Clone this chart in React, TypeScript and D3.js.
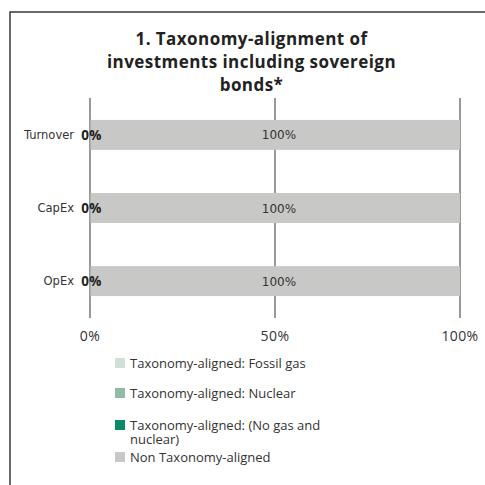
import React from "react";
import * as d3 from "d3";

const categories = ["Turnover", "CapEx", "OpEx"];
const seriesNames = [
  "Taxonomy-aligned: Fossil gas",
  "Taxonomy-aligned: Nuclear",
  "Taxonomy-aligned: (No gas and nuclear)",
  "Non Taxonomy-aligned",
];
const fossilGas = [0, 0, 0];
const nuclear = [0, 0, 0];
const noGasNuclear = [0, 0, 0];
const nonAligned = [100, 100, 100];
const seriesColors = ["#cfe0d6", "#8fbba5", "#0b8a68", "#c8c8c6"];
const xTicks = [0, 50, 100];
const titleLines = ["1. Taxonomy-alignment of", "investments including sovereign", "bonds*"];

const W = 485;
const H = 485;
const legendFont = "'Open Sans', 'Noto Sans', sans-serif";
const labelFont = "'DejaVu Sans', Verdana, sans-serif";

export default function App() {
  const x = d3.scaleLinear().domain([0, 100]).range([90, 460]);
  const y = d3.scaleBand().domain(categories).range([98, 318]).paddingInner(0.59).paddingOuter(0.3);
  const rows = categories.map((c, i) => ({
    cat: c,
    fossilGas: fossilGas[i],
    nuclear: nuclear[i],
    noGasNuclear: noGasNuclear[i],
    nonAligned: nonAligned[i],
  }));
  const keys = ["fossilGas", "nuclear", "noGasNuclear", "nonAligned"];
  const stack = d3.stack<any>().keys(keys)(rows);
  const alignedSum = categories.map((_, i) => fossilGas[i] + nuclear[i] + noGasNuclear[i]);

  const legendY = [363, 393, 425, 457];
  const legendLines = [[seriesNames[0]], [seriesNames[1]], ["Taxonomy-aligned: (No gas and", "nuclear)"], [seriesNames[3]]];

  return (
    <svg width={W} height={H} style={{ position: "absolute", left: 0, top: 0 }}>
      <rect x={0} y={0} width={W} height={H} fill="#fff" />
      <rect x={10} y={12} width={W} height={H} fill="none" stroke="#3a3a3a" strokeWidth={1.5} />
      {titleLines.map((t, i) => (
        <text key={i} x={251.5} y={45 + i * 23} textAnchor="middle" fontFamily={legendFont} fontWeight={700} fontSize={17} letterSpacing={0.45} fill="#222">
          {t}
        </text>
      ))}
      {xTicks.map((t) => (
        <line key={t} x1={x(t)} x2={x(t)} y1={98} y2={318} stroke="#333" strokeWidth={1} />
      ))}
      {stack.map((s, si) =>
        s.map((d, i) => (
          <rect key={si + "-" + i} x={x(d[0]) + 0.5} y={y(categories[i])!} width={Math.max(0, x(d[1]) - x(d[0]) - 0.5)} height={y.bandwidth()} fill={seriesColors[si]} />
        ))
      )}
      {categories.map((c, i) => (
        <g key={c}>
          <text x={74} y={y(c)! + y.bandwidth() / 2 + 4} textAnchor="end" fontFamily={labelFont} fontSize={11.5} fill="#333">
            {c}
          </text>
          <text x={x(0) + 1.5} y={y(c)! + y.bandwidth() / 2 + 5} textAnchor="middle" fontFamily={legendFont} fontWeight={700} fontSize={13.5} letterSpacing={0.3} fill="#222">
            {alignedSum[i]}%
          </text>
          <text x={(x(100 - nonAligned[i]) + x(100)) / 2 + 4} y={y(c)! + y.bandwidth() / 2 + 4.5} textAnchor="middle" fontFamily={labelFont} fontSize={12} fill="#333">
            {nonAligned[i]}%
          </text>
        </g>
      ))}
      {xTicks.map((t) => (
        <text key={"l" + t} x={x(t)} y={341} textAnchor="middle" fontFamily={legendFont} fontSize={14} letterSpacing={0.4} fill="#333">
          {t}%
        </text>
      ))}
      {legendLines.map((lines, i) => (
        <g key={i}>
          <rect x={115} y={legendY[i] - 5} width={10} height={10} fill={seriesColors[i]} />
          <text x={130} y={legendY[i] + 4.5} fontFamily={legendFont} fontSize={13} fill="#333">
            {lines.map((l, j) => (
              <tspan key={j} x={130} dy={j === 0 ? 0 : 14.5}>
                {l}
              </tspan>
            ))}
          </text>
        </g>
      ))}
    </svg>
  );
}
